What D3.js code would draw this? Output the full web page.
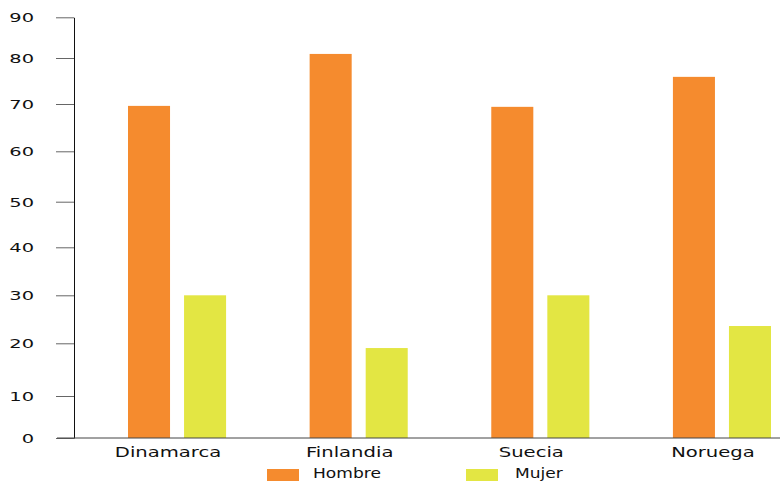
<!DOCTYPE html>
<html>
<head>
<meta charset="utf-8">
<script src="https://cdn.jsdelivr.net/npm/d3@7"></script>
<style>
  html, body { margin: 0; padding: 0; background: #fff; }
  svg { display: block; }
  svg text { font-family: 'DejaVu Sans', Verdana, sans-serif; }
</style>
</head>
<body>
<div id="chart"></div>
<script>
// data
const categories = ['Dinamarca', 'Finlandia', 'Suecia', 'Noruega']
const series = ['Hombre', 'Mujer']
const hombre = [69.6, 81, 69.4, 75.9]
const mujer = [30, 19.1, 30, 23.6]
const yTicks = [0, 10, 20, 30, 40, 50, 60, 70, 80, 90]
// the original axis has uneven gaps between its ticks
const yTickPos = [438, 396, 343.3, 295.3, 247.3, 201.7, 151.3, 104, 58, 17.3]

const colors = { Hombre: '#f58b2e', Mujer: '#e3e643' }
const font = "'DejaVu Sans', Verdana, sans-serif"

const width = 783, height = 481
const axisX = 74

const svg = d3.select('#chart').append('svg')
  .attr('width', width)
  .attr('height', height)

// Scales

const y = d3.scaleLinear().domain(yTicks).range(yTickPos)

const x0 = d3.scaleBand()
  .domain(categories)
  .range([128, 771])
  .paddingInner(0.46)
  .paddingOuter(0)

const x1 = d3.scaleBand()
  .domain(series)
  .range([0, x0.bandwidth()])
  .paddingInner(0.25)

const rows = categories.map((c, i) => ({ cat: c, Hombre: hombre[i], Mujer: mujer[i] }))

// Bars

const group = svg.selectAll('.group')
  .data(rows)
  .enter().append('g')
    .attr('class', 'group')
    .attr('transform', d => 'translate(' + x0(d.cat) + ',0)')

group.selectAll('rect')
  .data(d => series.map(s => ({ key: s, value: d[s] })))
  .enter().append('rect')
    .attr('x', d => x1(d.key))
    .attr('width', x1.bandwidth())
    .attr('y', d => y(d.value))
    .attr('height', d => y(0) - y(d.value))
    .attr('fill', d => colors[d.key])

// Y axis

function customYAxis(g) {
  g.call(d3.axisLeft(y).tickValues(yTicks).tickSize(18).tickSizeOuter(0))
  g.attr('font-family', font)
  g.select('.domain').attr('stroke', '#111')
  g.selectAll('.tick line').attr('stroke', '#666')
  g.selectAll('.tick text')
    .attr('x', 0)
    .attr('dy', '0.36em')
    .attr('transform', 'translate(-40,0) scale(1.62,1)')
    .attr('text-anchor', 'end')
    .attr('fill', '#111')
    .style('font-size', '12px')
}
svg.append('g')
  .attr('transform', 'translate(' + axisX + ',0)')
  .call(customYAxis)

// X axis

svg.append('line')
  .attr('x1', 57)
  .attr('x2', 780)
  .attr('y1', y(0))
  .attr('y2', y(0))
  .attr('stroke', '#444')

function customXAxis(g) {
  g.call(d3.axisBottom(x0).tickSize(0))
  g.attr('font-family', font)
  g.select('.domain').remove()
  g.selectAll('.tick')
    .attr('transform', d => 'translate(' + (x0(d) + x0.bandwidth() / 2 - 9) + ',0)')
  g.selectAll('.tick text')
    .attr('y', 0)
    .attr('dy', 0)
    .attr('transform', 'translate(0,18.5) scale(1.4,1)')
    .attr('fill', '#111')
    .style('font-size', '14px')
}
svg.append('g')
  .attr('transform', 'translate(0,' + y(0) + ')')
  .call(customXAxis)

// Legend

const lx = d3.scalePoint().domain(series).range([267, 466])

const item = svg.selectAll('.legend')
  .data(series)
  .enter().append('g')
    .attr('class', 'legend')
    .attr('transform', d => 'translate(' + lx(d) + ',469)')

item.append('rect')
  .attr('width', 32)
  .attr('height', 14)
  .attr('fill', d => colors[d])

item.append('text')
  .attr('transform', (d, i) => 'translate(' + (i ? 49 : 46) + ',8.5) scale(1.22,1)')
  .attr('fill', '#111')
  .style('font-size', '14px')
  .text(d => d)
</script>
</body>
</html>
